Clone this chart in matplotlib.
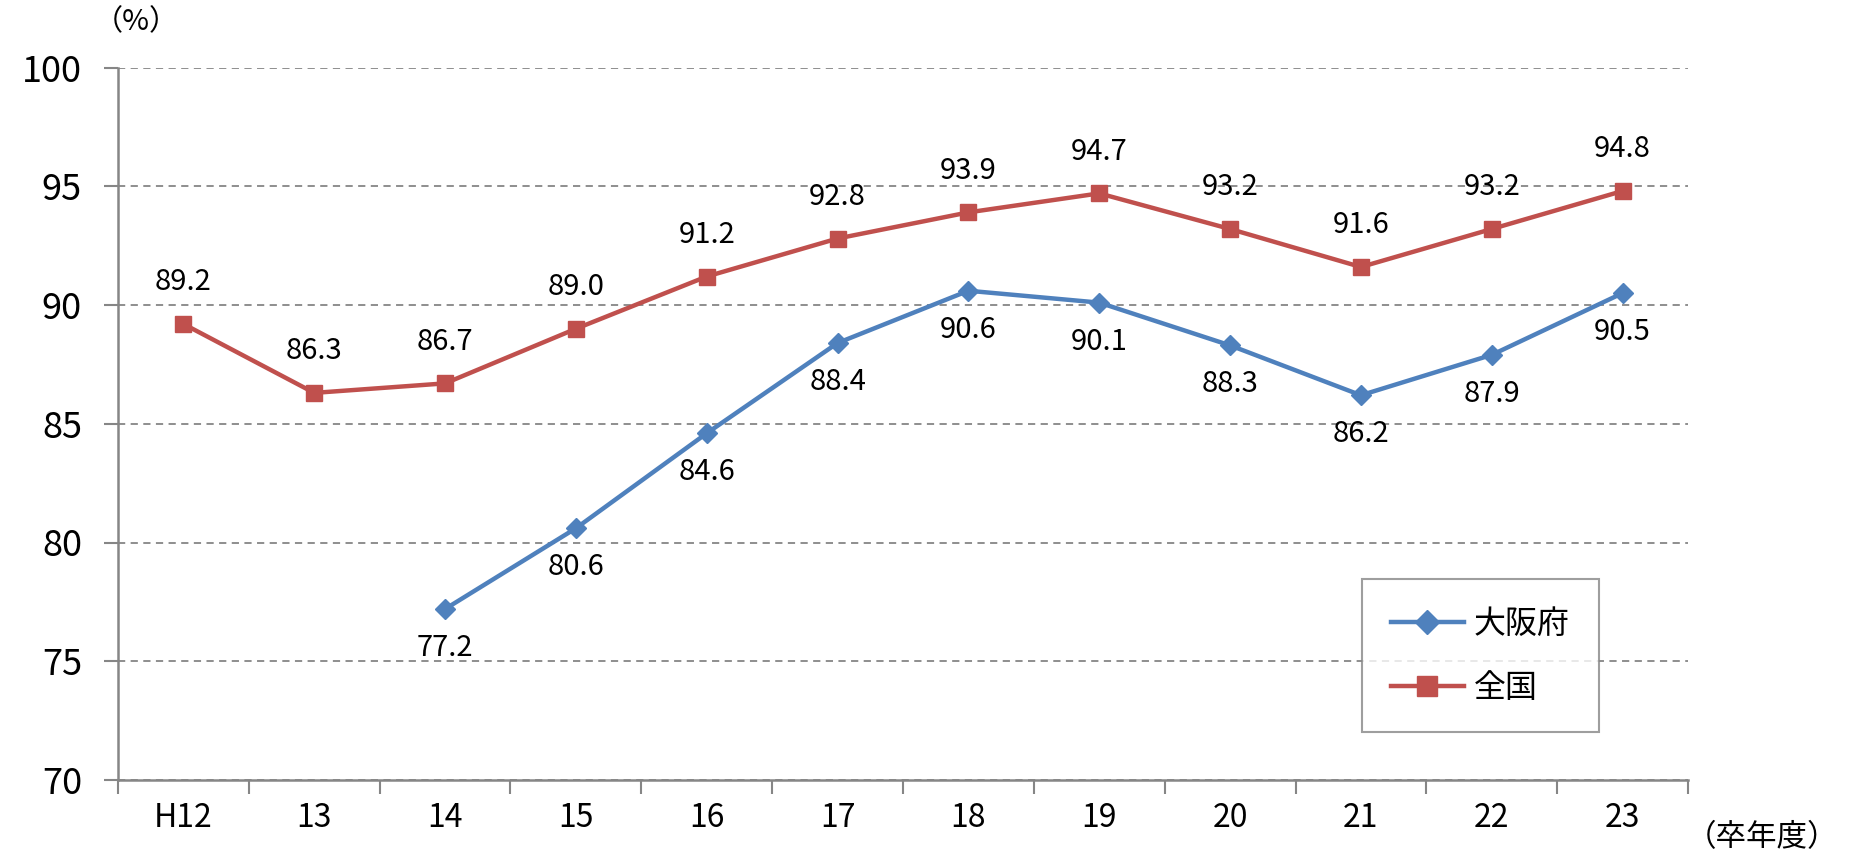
import matplotlib
matplotlib.use("Agg")
import matplotlib.pyplot as plt
import numpy as np

plt.rcParams['font.family'] = ['Noto Sans CJK JP', 'DejaVu Sans']

categories = ["H12", "13", "14", "15", "16", "17", "18", "19", "20", "21", "22", "23"]
osaka = [None, None, 77.2, 80.6, 84.6, 88.4, 90.6, 90.1, 88.3, 86.2, 87.9, 90.5]
zenkoku = [89.2, 86.3, 86.7, 89.0, 91.2, 92.8, 93.9, 94.7, 93.2, 91.6, 93.2, 94.8]
yticks = [70, 75, 80, 85, 90, 95, 100]

blue = "#4F81BD"
red = "#C0504D"
gray = "#868686"

fig = plt.figure(figsize=(18.54, 8.58), dpi=100)
ax = fig.add_axes([118/1854, 1-780/858, (1688-118)/1854, (780-67.5)/858])

x = np.arange(len(categories))
oy = np.array([np.nan if v is None else v for v in osaka], dtype=float)
zy = np.array(zenkoku, dtype=float)

ax.plot(x, oy, color=blue, lw=3.2, marker='D', ms=10, label="大阪府", zorder=3)
ax.plot(x, zy, color=red, lw=3.2, marker='s', ms=12, label="全国", zorder=3)

for xi, v in zip(x, zy):
    ax.annotate(f"{v:.1f}", (xi, v), xytext=(0, 30), textcoords='offset points',
                ha='center', va='center', fontsize=21)
for xi, v in zip(x, oy):
    if not np.isnan(v):
        ax.annotate(f"{v:.1f}", (xi, v), xytext=(0, -28), textcoords='offset points',
                    ha='center', va='center', fontsize=21)

ax.set_xlim(-0.5, len(categories) - 0.5)
ax.set_ylim(70, 100)
ax.set_yticks(yticks)
ax.set_yticklabels([str(t) for t in yticks], fontsize=26)
ax.set_xticks(x)
ax.set_xticklabels(categories, fontsize=23)
ax.tick_params(axis='x', which='major', length=0, pad=16)
ax.set_xticks(np.arange(-0.5, len(categories)), minor=True)
ax.tick_params(axis='x', which='minor', length=10, width=1.5, color=gray)
ax.tick_params(axis='y', which='major', length=10, width=1.5, color=gray, pad=16)

ax.grid(axis='y', color=gray, linestyle=(0, (4, 3)), lw=1.3)
ax.set_axisbelow(True)
for s in ['top', 'right']:
    ax.spines[s].set_visible(False)
for s in ['left', 'bottom']:
    ax.spines[s].set_color(gray)
    ax.spines[s].set_linewidth(1.8)

fig.text(136/1854, 1-22/858, "（%）", ha='center', va='center', fontsize=21)
fig.text(1762/1854, 1-838/858, "（卒年度）", ha='center', va='center', fontsize=22)

leg = ax.legend(loc='upper left', bbox_to_anchor=((1362-118)/1570, 1-(579-67.5)/712.5),
                fontsize=23, frameon=True, fancybox=False, edgecolor=gray,
                borderpad=0.9, labelspacing=1.0, handlelength=2.3, handletextpad=0.3,
                borderaxespad=0, markerscale=1.2)
leg.get_frame().set_linewidth(1.5)

fig.savefig("out.png", dpi=100, facecolor='white')
